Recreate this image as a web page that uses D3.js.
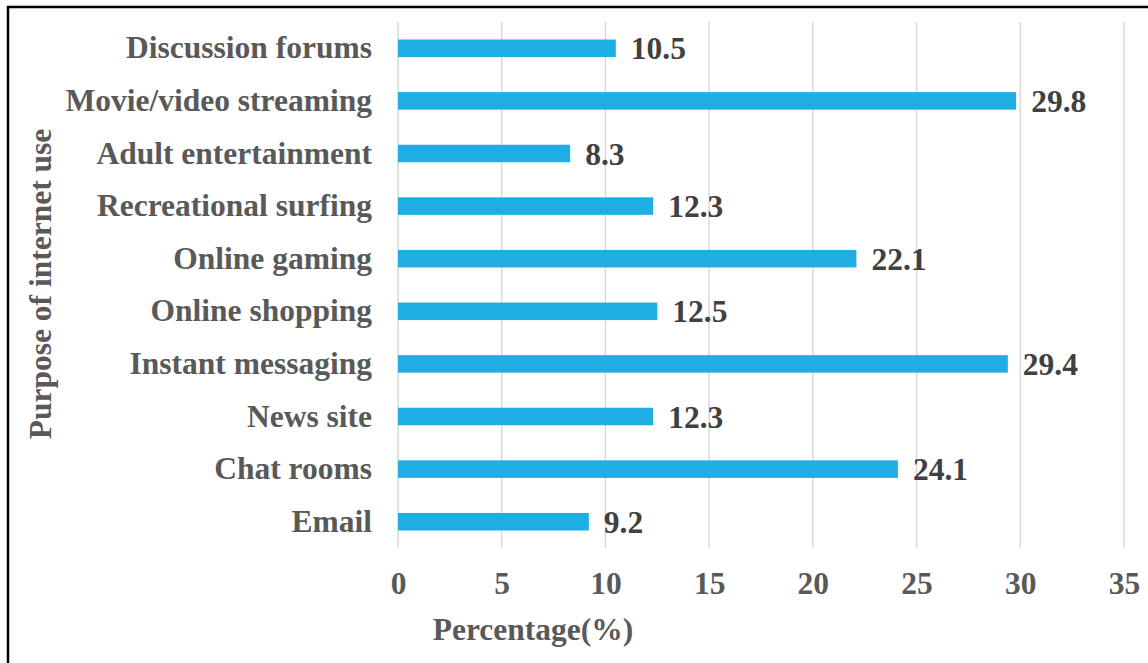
<!DOCTYPE html>
<html>
<head>
<meta charset="utf-8">
<script src="https://cdn.jsdelivr.net/npm/d3@7"></script>
<style>
  body { margin: 0; background: #fff; }
  svg text { font-family: "Liberation Serif", "Times New Roman", serif; font-weight: bold; }
</style>
</head>
<body>
<div id="chart"></div>
<script>
// data
var categories = ["Discussion forums", "Movie/video streaming", "Adult entertainment",
    "Recreational surfing", "Online gaming", "Online shopping", "Instant messaging",
    "News site", "Chat rooms", "Email"];
var values = [10.5, 29.8, 8.3, 12.3, 22.1, 12.5, 29.4, 12.3, 24.1, 9.2];
var xTicks = [0, 5, 10, 15, 20, 25, 30, 35];

var svgWidth = 1148;
var svgHeight = 663;
var margin = { top: 22, right: 24, bottom: 115, left: 398 };
var width = 1124 - margin.left;
var height = 548 - margin.top;
var fontSize = "31.5px";

var svg = d3.select("#chart")
    .append("svg")
    .attr("width", svgWidth)
    .attr("height", svgHeight);

// frame (left and top edges visible in the picture)
svg.append("rect")
    .attr("x", 8)
    .attr("y", 7)
    .attr("width", 1160)
    .attr("height", 680)
    .attr("fill", "none")
    .attr("stroke", "#000")
    .attr("stroke-width", 2.5);

var chartGroup = svg.append("g")
    .attr("transform", `translate(${margin.left}, ${margin.top})`);

var xScale = d3.scaleLinear()
    .domain([0, 35])
    .range([0, width]);

var yScale = d3.scaleBand()
    .domain(categories)
    .range([0, height])
    .paddingInner(0.667)
    .paddingOuter(0.333);

// vertical gridlines
chartGroup.append("g")
    .selectAll("line")
    .data(xTicks)
    .enter()
    .append("line")
    .attr("x1", d => xScale(d))
    .attr("x2", d => xScale(d))
    .attr("y1", 0)
    .attr("y2", height)
    .attr("stroke", "#d9d9d9")
    .attr("stroke-width", 1.5);

// x axis tick labels
var bottomAxis = d3.axisBottom(xScale)
    .tickValues(xTicks)
    .tickSize(0)
    .tickPadding(24);
var xAxis = chartGroup.append("g")
    .attr("transform", `translate(0, ${height})`)
    .call(bottomAxis);
xAxis.select(".domain").remove();
xAxis.selectAll("text")
    .attr("fill", "#595959")
    .style("font-size", fontSize);

// y axis labels
var leftAxis = d3.axisLeft(yScale)
    .tickSize(0)
    .tickPadding(26);
var yAxis = chartGroup.append("g")
    .call(leftAxis);
yAxis.select(".domain").remove();
yAxis.selectAll("text")
    .attr("fill", "#595959")
    .style("font-size", fontSize);

// bars
chartGroup.selectAll("rect.bar")
    .data(values)
    .enter()
    .append("rect")
    .attr("class", "bar")
    .attr("x", 0)
    .attr("y", (d, i) => yScale(categories[i]))
    .attr("width", d => xScale(d))
    .attr("height", yScale.bandwidth())
    .attr("fill", "#1eaee4");

// value labels
chartGroup.selectAll("text.val")
    .data(values)
    .enter()
    .append("text")
    .attr("class", "val")
    .attr("x", d => xScale(d) + 15)
    .attr("y", (d, i) => yScale(categories[i]) + yScale.bandwidth() / 2)
    .attr("dy", "0.35em")
    .attr("fill", "#404040")
    .style("font-size", fontSize)
    .text(d => d.toFixed(1));

// axis titles
svg.append("text")
    .attr("x", 533)
    .attr("y", 640)
    .attr("text-anchor", "middle")
    .attr("fill", "#595959")
    .style("font-size", fontSize)
    .text("Percentage(%)");

svg.append("text")
    .attr("transform", "translate(51, 284) rotate(-90)")
    .attr("text-anchor", "middle")
    .attr("fill", "#595959")
    .style("font-size", fontSize)
    .text("Purpose of internet use");
</script>
</body>
</html>
